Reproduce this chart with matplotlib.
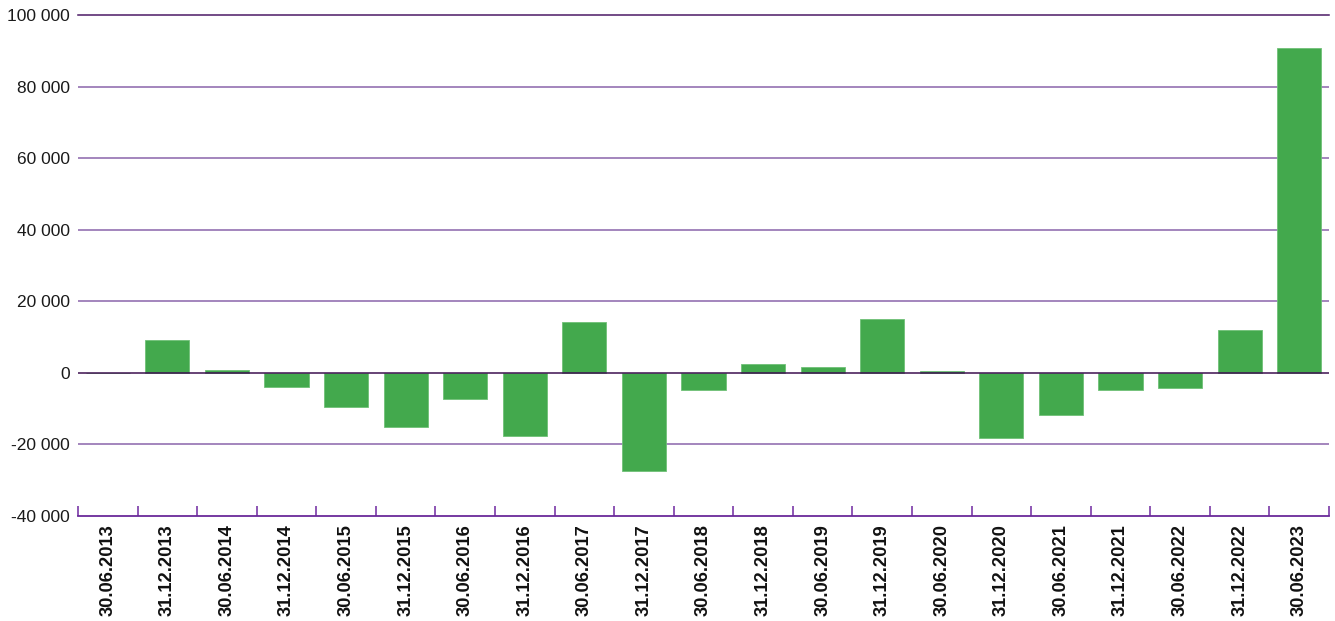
import matplotlib
matplotlib.use("Agg")
import matplotlib.pyplot as plt
from matplotlib.ticker import FuncFormatter, FixedLocator

categories = ["30.06.2013", "31.12.2013", "30.06.2014", "31.12.2014", "30.06.2015",
              "31.12.2015", "30.06.2016", "31.12.2016", "30.06.2017", "31.12.2017",
              "30.06.2018", "31.12.2018", "30.06.2019", "31.12.2019", "30.06.2020",
              "31.12.2020", "30.06.2021", "31.12.2021", "30.06.2022", "31.12.2022",
              "30.06.2023"]
values = [0, 9300, 700, -4000, -9500, -15100, -7300, -17600, 14200, -27500,
          -4900, 2500, 1600, 15100, 600, -18200, -11700, -4700, -4200, 12000, 90800]
yticks = [-40000, -20000, 0, 20000, 40000, 60000, 80000, 100000]

plt.rcParams['font.family'] = ['Liberation Sans', 'DejaVu Sans']

fig = plt.figure(figsize=(13.35, 6.21), dpi=100)
ax = fig.add_axes([78/1335, 1-516/621, (1329-78)/1335, (516-15)/621])

x = list(range(len(categories)))
ax.bar(x, values, width=0.74, color="#43a94d", edgecolor="#6fc077", linewidth=0.6, zorder=3)

ax.set_xlim(-0.5, len(categories) - 0.5)
ax.set_ylim(-40000, 100000)

grid_light = "#a385bd"
for t in yticks:
    if t == -40000:
        continue
    if t == 0:
        ax.axhline(t, color="#3d1050", lw=1.1, zorder=4)
    elif t == 100000:
        ax.axhline(t, color="#4b1a66", lw=1.1, zorder=1, clip_on=False)
    else:
        ax.axhline(t, color=grid_light, lw=1.4, zorder=1)

for s in ["top", "right", "left"]:
    ax.spines[s].set_visible(False)
ax.spines["bottom"].set_color("#6a2a9a")
ax.spines["bottom"].set_linewidth(1.3)

ax.set_yticks(yticks)
ax.yaxis.set_major_formatter(FuncFormatter(lambda v, p: f"{int(v):,}".replace(",", " ")))
ax.tick_params(axis="y", length=0, pad=6, labelsize=12.5, labelcolor="#1a1a1a")

ax.set_xticks(x)
ax.set_xticklabels(categories, rotation=90, fontweight="bold", fontsize=13.2, color="#111111")
ax.tick_params(axis="x", which="major", length=0, pad=6)
ax.xaxis.set_minor_locator(FixedLocator([i - 0.5 for i in range(len(categories) + 1)]))
ax.tick_params(axis="x", which="minor", direction="in", length=7.5, width=1.2, color="#7a3aa8")

fig.savefig("out.png", dpi=100)
